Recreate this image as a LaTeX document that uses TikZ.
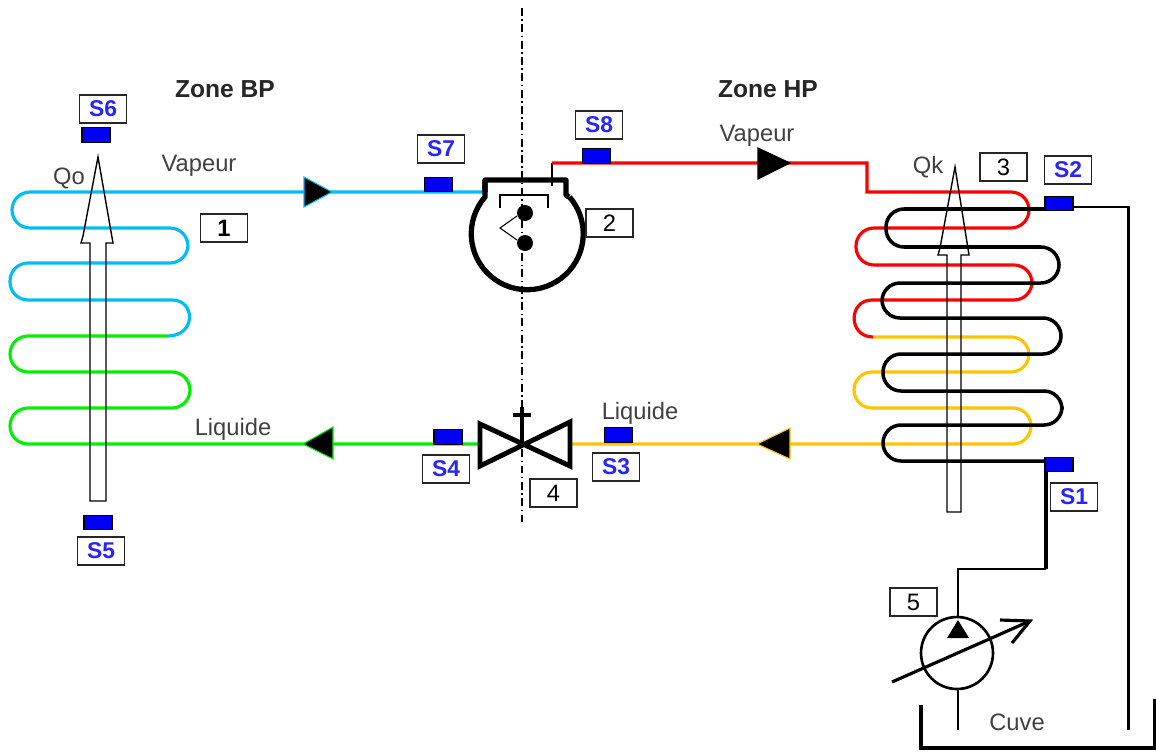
\documentclass[tikz,border=0pt]{standalone}
\usepackage{fontspec}
\setmainfont{Liberation Sans}
\definecolor{vapbp}{RGB}{0,190,245}
\definecolor{liqbp}{RGB}{0,240,0}
\definecolor{vaphp}{RGB}{255,0,0}
\definecolor{liqhp}{RGB}{255,195,0}
\definecolor{sensorblue}{RGB}{0,0,245}
\tikzset{
    pipe/.style={line width=1.8pt, rounded corners=0.36cm},
    water/.style={pipe, black, line width=2pt},
    flux/.style={black, line width=0.8pt},
    sensor/.style={draw=black, fill=sensorblue, line width=0.7pt, minimum width=0.56cm, minimum height=0.29cm, inner sep=0pt},
    tagbox/.style={draw=black!85, fill=white, line width=0.7pt, minimum width=0.94cm, minimum height=0.56cm, inner sep=0pt, font=\fontsize{13.5}{14}\selectfont},
    sensortag/.style={tagbox, text=sensorblue!85!white, font=\fontsize{13}{14}\selectfont\bfseries},
    caption/.style={text=black!75, font=\fontsize{13.5}{14}\selectfont, inner sep=0pt},
    zone/.style={text=black!85, font=\fontsize{14}{14}\selectfont\bfseries, inner sep=0pt}
}
\begin{document}
\begin{tikzpicture}[x=0.02cm,y=-0.02cm]
    \useasboundingbox (0,0) rectangle (1156,751);

    % Points where the pipes meet the components
    \coordinate (compin) at (485,192);
    \coordinate (compout) at (552,186);
    \coordinate (valvein) at (570,444);
    \coordinate (valveout) at (480,444);
    \coordinate (pumpout) at (958,618);
    \coordinate (pumpin) at (958,690);
    \coordinate (pumpfoot) at (958,730);
    \coordinate (returnfoot) at (1128,730);

    % Axis between the two zones
    \draw[line width=0.6pt, dash pattern=on 4.5pt off 2pt on 0.8pt off 2pt] (522,8) -- (522,522);

    % Evaporator coil
    \draw[pipe, vapbp] (compin) -- (12,192) -- (12,228) -- (188,228) -- (188,263) -- (10,263) -- (10,300) -- (172,300);
    \draw[pipe, vapbp] (172,300) .. controls (196,300) and (196,336) .. (168,336);
    \draw[pipe, liqbp] (168,336) -- (10,336) -- (10,372) -- (190,372) -- (190,408) -- (10,408) -- (10,444) -- (valveout);

    % Condenser coil, refrigerant side
    \draw[line width=0.8pt] (compout) -- (552,163);
    \draw[pipe, vaphp] [sharp corners] (552,163) -- (867,163) -- (867,192) [rounded corners=0.36cm] -- (1029,192) -- (1029,228) -- (856,228) -- (856,265) -- (1032,265) -- (1032,300) -- (872,300);
    \draw[pipe, vaphp] (872,300) .. controls (848,300) and (848,337) .. (873,337);
    \draw[pipe, liqhp] (873,337) -- (1029,337) -- (1029,372) -- (854,372) -- (854,408) -- (1031,408) -- (1031,444) -- (valvein);

    % Condenser coil, water side
    \draw[water] (1060,209) -- (886,209) -- (886,247) -- (1059,247) -- (1059,283) -- (882,283) -- (882,318) -- (1061,318) -- (1061,354) -- (883,354) -- (883,391) -- (1062,391) -- (1062,425) -- (883,425) -- (883,461) -- (1060,461);

    % Water circuit with pump and tank
    \draw[line width=1.7pt] (1060,207) -- (1128,207) -- (returnfoot);
    \draw[line width=2pt] (1046,461) -- (1046,569);
    \draw[line width=1.2pt] (1046,569) -- (958,569) -- (pumpout);
    \draw[line width=1.2pt] (pumpin) -- (pumpfoot);
    \draw[line width=2.4pt] (921,705) -- (921,748) -- (1155,748) -- (1155,699);

    % Heat flow arrows
    \draw[flux] (90,501) -- (90,243) -- (81,243) -- (83,236) -- (98,157) -- (113,243) -- (106,243) -- (106,501) -- cycle;
    \draw[flux] (947,512) -- (947,255) -- (938,255) -- (940,248) -- (955,167) -- (969,255) -- (961,255) -- (961,512) -- cycle;

    % Flow direction triangles
    \filldraw[draw=vapbp, fill=black, line width=0.6pt] (304,177) -- (332,192) -- (304,207) -- cycle;
    \filldraw[draw=black, fill=black, line width=0.6pt] (758,148) -- (790,163) -- (758,179) -- cycle;
    \filldraw[draw=liqbp, fill=black, line width=0.6pt] (333,427) -- (303,444) -- (333,459) -- cycle;
    \filldraw[draw=liqhp, fill=black, line width=0.6pt] (790,428) -- (757,444) -- (790,459) -- cycle;

    % Compressor
    \draw[line width=3pt, line join=round] (485,192) -- (485,180) -- (566,180) -- (566,195) -- (569,197);
    \draw[line width=3pt] (485,180) -- (485,197) arc[start angle=139, end angle=401, radius=1.12cm];
    \draw[line width=0.8pt] (500,208) -- (500,195) -- (548,195) -- (548,208);
    \draw[line width=0.6pt] (517,216) -- (500,228) -- (517,240);
    \foreach \py in {213,243} {
        \fill (525,\py) circle[radius=0.16cm];
    }

    % Expansion valve
    \draw[line width=2.8pt, line join=miter] (valveout) -- (480,424) -- (570,466) -- (570,422) -- (480,466) -- cycle;
    \draw[line width=2.4pt] (522,444) -- (522,407);
    \draw[line width=2.4pt] (513,415) -- (531,415);

    % Pump
    \draw[line width=1.5pt] (957,653) circle[radius=0.72cm];
    \fill (947,638) -- (958,620) -- (969,638) -- cycle;
    \draw[line width=1.8pt] (892,682) -- (1030,621);
    \draw[line width=1.8pt] (1000,620) -- (1030,621) -- (1012,643);

    % Sensors
    \foreach \name/\px/\py in {s1/1059/464.5, s2/1059/203.5, s3/618.5/435, s4/448/437, s5/98/522.5, s6/96/135, s7/438.5/184.5, s8/596.5/156} {
        \node[sensor] (\name) at (\px,\py) {};
    }

    % Sensor labels
    \foreach \name/\px/\py/\txt in {ts1/1074/497/S1, ts2/1068/170/S2, ts3/616/467/S3, ts4/446/469/S4, ts5/101/551/S5, ts6/103/109/S6, ts7/441/149/S7, ts8/599/125/S8} {
        \node[sensortag] (\name) at (\px,\py) {\txt};
    }

    % Component numbers
    \node[tagbox, font=\fontsize{13.5}{14}\selectfont\bfseries] (n1) at (224,228) {1};
    \foreach \name/\px/\py/\txt in {n2/609.5/223/2, n3/1003.5/167/3, n4/553.5/493/4, n5/913.5/602/5} {
        \node[tagbox] (\name) at (\px,\py) {\txt};
    }

    % Captions
    \node[zone] (zonebp) at (225,89) {Zone BP};
    \node[zone] (zonehp) at (768,89) {Zone HP};
    \node[caption] (vapbptxt) at (199,166) {Vapeur};
    \node[caption] (vaphptxt) at (757,136) {Vapeur};
    \node[caption] (liqbptxt) at (233,429) {Liquide};
    \node[caption] (liqhptxt) at (640,413) {Liquide};
    \node[caption] (qo) at (69,178) {Qo};
    \node[caption] (qk) at (928,167) {Qk};
    \node[caption] (cuve) at (1017,722) {Cuve};
\end{tikzpicture}
\end{document}
